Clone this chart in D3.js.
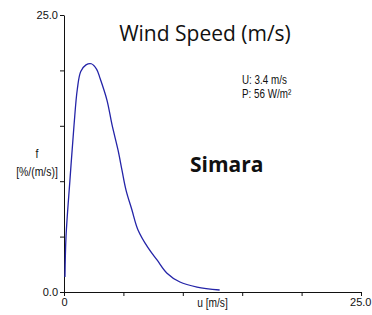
<!DOCTYPE html>
<html>
<head>
<meta charset="utf-8">
<script src="https://cdn.jsdelivr.net/npm/d3@7"></script>
<style>
  body { margin: 0; background: #fff; }
  .axis text, .small { font-family: "Liberation Sans", Arial, sans-serif; fill: #111; }
</style>
</head>
<body>
<div id="chart"></div>
<script>
// wind speed u [m/s] and frequency f [%/(m/s)]
var speeds = [0.08, 0.17, 0.5, 0.84, 1.12, 1.41, 1.85, 2.3, 2.75, 3.03, 3.62, 4.04, 4.55, 4.88, 5.22, 5.72, 6.23, 7.07, 7.83, 8.67, 9.76, 11.2, 13.1]
var freqs  = [1.35, 5.0, 10.1, 15.0, 18.3, 19.9, 20.5, 20.6, 20.1, 19.3, 17.3, 15.1, 12.8, 11.0, 9.2, 7.4, 5.6, 4.0, 2.9, 1.7, 0.9, 0.45, 0.18]
var tickValues = [0, 5, 10, 15, 20, 25]
var statLines = ["U: 3.4 m/s", "P: 56 W/m\u00b2"]

var data = speeds.map((u, i) => ({u: u, f: freqs[i]}))

var dimensions = {
  width: 372,
  height: 315,
  margin: {top: 15, right: 11, bottom: 23, left: 64},
}
dimensions.boundedWidth = dimensions.width - dimensions.margin.left - dimensions.margin.right
dimensions.boundedHeight = dimensions.height - dimensions.margin.top - dimensions.margin.bottom

var svg = d3.select("#chart")
  .append("svg")
  .attr("width", dimensions.width)
  .attr("height", dimensions.height)

svg.append("rect")
  .attr("width", dimensions.width)
  .attr("height", dimensions.height)
  .attr("fill", "white")

var bounds = svg.append("g")
  .attr("transform", `translate(${dimensions.margin.left},${dimensions.margin.top})`)

var xScale = d3.scaleLinear()
  .domain([0, 25])
  .range([0, dimensions.boundedWidth])

var yScale = d3.scaleLinear()
  .domain([0, 25])
  .range([dimensions.boundedHeight, 0])

// axes
var yAxis = bounds.append("g")
  .attr("class", "axis")
  .call(d3.axisLeft(yScale)
    .tickValues(tickValues)
    .tickSize(4)
    .tickSizeOuter(0)
    .tickFormat(d => (d == 0 || d == 25) ? d3.format(".1f")(d) : ""))
yAxis.selectAll("text").style("font-size", "11px").attr("x", -6)

var xAxis = bounds.append("g")
  .attr("class", "axis")
  .attr("transform", `translate(0,${dimensions.boundedHeight})`)
  .call(d3.axisBottom(xScale)
    .tickValues(tickValues)
    .tickSize(4)
    .tickSizeOuter(0)
    .tickFormat(d => d == 0 ? "0" : d == 25 ? "25.0" : ""))
xAxis.selectAll("text").style("font-size", "11px").attr("y", 6)
xAxis.selectAll(".tick text").filter(d => d == 25)
  .attr("text-anchor", "end")
  .attr("x", 10)

bounds.selectAll(".axis path, .axis line").attr("stroke", "#111")

// condensed looking labels
function narrowText(x, y, sx, anchor, txt) {
  return svg.append("text")
    .attr("class", "small")
    .attr("text-anchor", anchor)
    .attr("transform", `translate(${x},${y}) scale(${sx},1)`)
    .style("font-size", "12px")
    .text(txt)
}

narrowText(xScale(12.5) + dimensions.margin.left, 307, 0.85, "middle", "u [m/s]")
narrowText(37, 158, 0.87, "middle", "f")
narrowText(37, 176, 0.87, "middle", "[%/(m/s)]")
statLines.forEach((s, i) => narrowText(242, 84 + i * 14, 0.82, "start", s))

// distribution line
var lineGenerator = d3.line()
  .curve(d3.curveCatmullRom)
  .x(d => xScale(d.u))
  .y(d => yScale(d.f))

bounds.append("path")
  .attr("d", lineGenerator(data))
  .attr("fill", "none")
  .attr("stroke", "#2424a8")
  .attr("stroke-width", 1.3)

// titles
svg.append("text")
  .attr("x", 205)
  .attr("y", 41)
  .attr("text-anchor", "middle")
  .style("font-family", "'Open Sans', sans-serif")
  .style("font-size", "21px")
  .attr("fill", "#111")
  .text("Wind Speed (m/s)")

svg.append("text")
  .attr("x", 190)
  .attr("y", 172)
  .style("font-family", "'Open Sans', sans-serif")
  .style("font-weight", "bold")
  .style("font-size", "21px")
  .attr("fill", "#111")
  .text("Simara")
</script>
</body>
</html>
